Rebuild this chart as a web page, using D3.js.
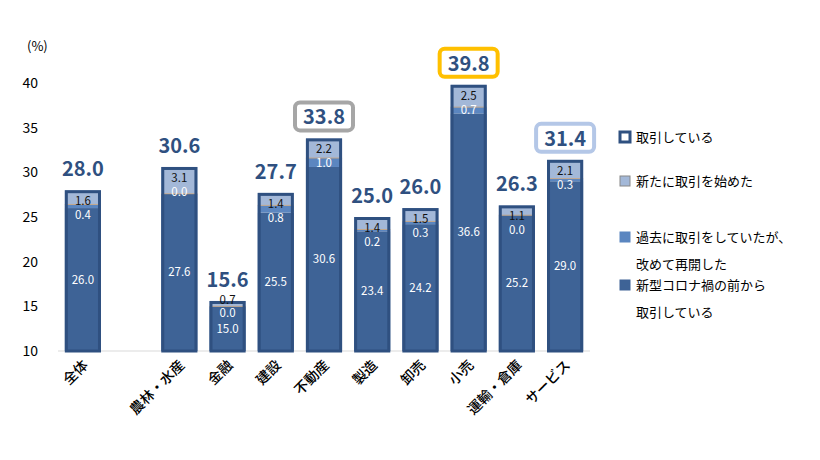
<!DOCTYPE html>
<html><head><meta charset="utf-8">
<script src="https://cdn.jsdelivr.net/npm/d3@7"></script>
<style>body{margin:0;background:#fff}text{font-family:"Noto Sans CJK JP","Noto Sans",sans-serif}</style>
</head><body>
<svg id="c" width="820" height="460"></svg>
<script>
const categories = ["全体","","農林・水産","金融","建設","不動産","製造","卸売","小売","運輸・倉庫","サービス"];
const before = [26.0,null,27.6,15.0,25.5,30.6,23.4,24.2,36.6,25.2,29.0];
const resumed = [0.4,null,0.0,0.0,0.8,1.0,0.2,0.3,0.7,0.0,0.3];
const newly = [1.6,null,3.1,0.7,1.4,2.2,1.4,1.5,2.5,1.1,2.1];
const totals = [28.0,null,30.6,15.6,27.7,33.8,25.0,26.0,39.8,26.3,31.4];
const highlight = {"不動産":"#a6a6a6","小売":"#ffc000","サービス":"#b4c7e7"};
const yTicks = [10,15,20,25,30,35,40];

const svg = d3.select("#c");
const x = d3.scaleBand().domain(categories.map((c,i)=>i)).range([60,588]).paddingInner(0.25).paddingOuter(0.1);
const y = d3.scaleLinear().domain([10,40]).range([351,83]);
const cDark="#3e6396", cMid="#5b86c0", cLight="#a3b8d8", cEdge="#2f5080";

svg.append("g").selectAll("text").data(yTicks).join("text")
  .attr("x",38).attr("y",d=>y(d)+5).attr("text-anchor","end").attr("font-size",14).attr("fill","#000").text(d=>d);
svg.append("text").attr("x",27).attr("y",51).attr("font-size",13).text("(%)");
svg.append("line").attr("x1",58).attr("x2",590).attr("y1",351).attr("y2",351).attr("stroke","#d9d9d9");

categories.forEach((c,i)=>{
  if(!c) return;
  const g = svg.append("g"), bx=x(i), bw=x.bandwidth(), cx=bx+bw/2;
  const b=before[i], r=resumed[i], n=newly[i], t=totals[i];
  const top = y(t);
  g.append("rect").attr("x",bx).attr("width",bw).attr("y",y(b)).attr("height",y(10)-y(b)).attr("fill",cDark);
  g.append("rect").attr("x",bx).attr("width",bw).attr("y",y(b+r)).attr("height",y(b)-y(b+r)).attr("fill",cMid);
  g.append("rect").attr("x",bx).attr("width",bw).attr("y",top).attr("height",y(b+r)-top).attr("fill",cLight);
  g.append("line").attr("x1",bx).attr("x2",bx+bw).attr("y1",y(b+r)).attr("y2",y(b+r)).attr("stroke","#c9a27a").attr("stroke-width",0.8);
  g.append("rect").attr("x",bx+1.5).attr("width",bw-3).attr("y",top+1.5).attr("height",y(10)-top-1.5).attr("fill","none").attr("stroke",cEdge).attr("stroke-width",3);
  const Yb = y((10+b)/2);
  const Ym = Math.min(top+25, Yb-16);
  const Yl = Math.min(top+11, Ym-13);
  g.append("text").attr("x",cx).attr("y",Yl+4).attr("text-anchor","middle").attr("font-size",11.5).attr("fill","#111").text(n.toFixed(1));
  g.append("text").attr("x",cx).attr("y",Ym+4).attr("text-anchor","middle").attr("font-size",11.5).attr("fill","#fff").text(r.toFixed(1));
  g.append("text").attr("x",cx).attr("y",Yb+4).attr("text-anchor","middle").attr("font-size",11.5).attr("fill","#fff").text(b.toFixed(1));
  if(highlight[c]) g.append("rect").attr("x",cx-29).attr("y",top-36).attr("width",58).attr("height",28).attr("rx",5)
      .attr("fill","#fff").attr("stroke",highlight[c]).attr("stroke-width",4);
  g.append("text").attr("x",cx).attr("y",top-14).attr("text-anchor","middle").attr("font-size",20).attr("font-weight","bold").attr("fill",cEdge).text(t.toFixed(1));
  g.append("text").attr("transform",`translate(${cx+6},366) rotate(-45)`).attr("text-anchor","end").attr("font-size",14).attr("font-weight",500).text(c);
});

const leg = [
  {y:138,fill:"#fff",stroke:cEdge,sw:3,lines:["取引している"]},
  {y:182,fill:cLight,stroke:"#888",sw:1,lines:["新たに取引を始めた"]},
  {y:238,fill:cMid,stroke:"#5b86c0",sw:1,lines:["過去に取引をしていたが、","改めて再開した"]},
  {y:286,fill:cDark,stroke:cDark,sw:1,lines:["新型コロナ禍の前から","取引している"]}
];
leg.forEach(l=>{
  svg.append("rect").attr("x",620).attr("y",l.y-6).attr("width",10).attr("height",10).attr("fill",l.fill).attr("stroke",l.stroke).attr("stroke-width",l.sw);
  l.lines.forEach((s,k)=>svg.append("text").attr("x",636).attr("y",l.y+4+k*27).attr("font-size",13).text(s));
});
</script>
</body></html>
